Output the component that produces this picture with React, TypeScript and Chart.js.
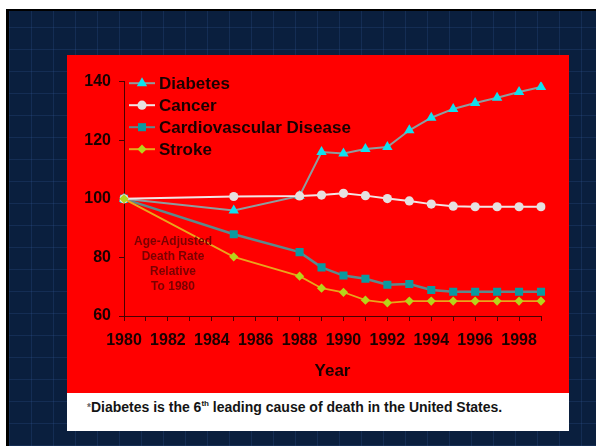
import React, { useEffect, useRef } from 'react';
import { Chart, registerables } from 'chart.js';

Chart.register(...registerables);

const years = ['1980','1981','1982','1983','1984','1985','1986','1987','1988','1989','1990','1991','1992','1993','1994','1995','1996','1997','1998','1999'];
const seriesNames = ['Diabetes', 'Cancer', 'Cardiovascular Disease', 'Stroke'];
const diabetes = [100, null, null, null, null, 96, null, null, 101, 116, 115.5, 117, 117.7, 123.4, 127.7, 130.7, 132.7, 134.5, 136.5, 138.2];
const cancer = [100, null, null, null, null, 100.8, null, null, 101, 101.3, 101.9, 101.1, 100.1, 99.3, 98.2, 97.5, 97.3, 97.3, 97.3, 97.3];
const cardiovascular = [100, null, null, null, null, 87.9, null, null, 81.8, 76.6, 73.8, 72.7, 70.7, 70.9, 68.9, 68.3, 68.3, 68.3, 68.3, 68.3];
const stroke = [100, null, null, null, null, 80.2, null, null, 73.6, 69.5, 68.1, 65.4, 64.5, 65.1, 65.1, 65.1, 65.1, 65.1, 65.1, 65.1];
const yMin = 60;
const yMax = 140;
const yStep = 20;
const noteLines = ['Age-Adjusted', 'Death Rate', 'Relative', 'To 1980'];
const xTitle = 'Year';

const AXIS = '#4a0000';
const TEXT = '#1a0000';

function drawMarker(ctx: CanvasRenderingContext2D, style: string, x: number, y: number, r: number, fill: string) {
  ctx.save();
  ctx.fillStyle = fill;
  ctx.beginPath();
  if (style === 'triangle') {
    ctx.moveTo(x, y - r);
    ctx.lineTo(x + r * 0.866, y + r * 0.5);
    ctx.lineTo(x - r * 0.866, y + r * 0.5);
    ctx.closePath();
  } else if (style === 'circle') {
    ctx.arc(x, y, r, 0, Math.PI * 2);
  } else if (style === 'rect') {
    const s = r * Math.SQRT1_2;
    ctx.rect(x - s, y - s, 2 * s, 2 * s);
  } else {
    ctx.moveTo(x, y - r);
    ctx.lineTo(x + r, y);
    ctx.lineTo(x, y + r);
    ctx.lineTo(x - r, y);
    ctx.closePath();
  }
  ctx.fill();
  ctx.restore();
}

export default function App() {
  const ref = useRef<HTMLCanvasElement>(null);

  useEffect(() => {
    const canvas = ref.current;
    if (!canvas) return;

    const overlayPlugin = {
      id: 'inlineLegendAndNote',
      afterDatasetsDraw(chart: any) {
        const ctx: CanvasRenderingContext2D = chart.ctx;
        const area = chart.chartArea;
        ctx.save();
        chart.data.datasets.forEach((ds: any, i: number) => {
          const y = area.top + 1.5 + i * 22;
          ctx.strokeStyle = ds.borderColor;
          ctx.lineWidth = 2;
          ctx.beginPath();
          ctx.moveTo(area.left + 5, y);
          ctx.lineTo(area.left + 31, y);
          ctx.stroke();
          drawMarker(ctx, ds.pointStyle, area.left + 18, y, ds.pointRadius, ds.pointBackgroundColor);
          ctx.fillStyle = TEXT;
          ctx.font = 'bold 17px "Liberation Sans", Arial, sans-serif';
          ctx.textAlign = 'left';
          ctx.textBaseline = 'middle';
          ctx.fillText(ds.label, area.left + 35, y + 1);
        });
        ctx.fillStyle = '#7a0000';
        ctx.font = 'bold 12px "Liberation Sans", Arial, sans-serif';
        ctx.textAlign = 'center';
        ctx.textBaseline = 'middle';
        noteLines.forEach((t, i) => {
          ctx.fillText(t, area.left + 49, area.top + 159.5 + i * 15.2);
        });
        ctx.restore();
      },
    };

    const chart = new Chart(canvas, {
      type: 'line',
      data: {
        labels: years,
        datasets: [
          {
            label: seriesNames[0],
            data: diabetes,
            borderColor: '#8e9c9e',
            borderWidth: 2,
            pointStyle: 'triangle',
            pointRadius: 6,
            pointBackgroundColor: '#10e0ee',
            pointBorderColor: '#10e0ee',
            pointBorderWidth: 0,
            spanGaps: true,
            order: 2,
          },
          {
            label: seriesNames[1],
            data: cancer,
            borderColor: '#f2e6e6',
            borderWidth: 2,
            pointStyle: 'circle',
            pointRadius: 4.6,
            pointBackgroundColor: '#e6e0e0',
            pointBorderColor: '#e6e0e0',
            pointBorderWidth: 0,
            spanGaps: true,
            order: 1,
          },
          {
            label: seriesNames[2],
            data: cardiovascular,
            borderColor: '#5c8a8c',
            borderWidth: 2.5,
            pointStyle: 'rect',
            pointRadius: 5.7,
            pointBackgroundColor: '#0a9aa0',
            pointBorderColor: '#0a9aa0',
            pointBorderWidth: 0,
            spanGaps: true,
            order: 3,
          },
          {
            label: seriesNames[3],
            data: stroke,
            borderColor: '#eaa41c',
            borderWidth: 1.8,
            pointStyle: 'rectRot',
            pointRadius: 4.6,
            pointBackgroundColor: '#b6d41a',
            pointBorderColor: '#b6d41a',
            pointBorderWidth: 0,
            spanGaps: true,
            order: 0,
          },
        ],
      },
      options: {
        responsive: false,
        animation: false,
        layout: { padding: { top: 26.7, right: 28, left: 0, bottom: 0 } },
        plugins: {
          legend: { display: false },
          tooltip: { enabled: false },
        },
        elements: { line: { tension: 0 } },
        scales: {
          x: {
            type: 'category',
            offset: false,
            afterFit: (scale: any) => { scale.height = 77; },
            grid: { display: true, drawOnChartArea: false, drawTicks: true, tickLength: 5, color: AXIS },
            border: { display: true, color: AXIS, width: 1 },
            ticks: {
              autoSkip: false,
              maxRotation: 0,
              padding: 10,
              color: TEXT,
              font: { family: '"Liberation Sans", Arial, sans-serif', size: 16, weight: 'bold' },
              callback: (_v: any, idx: number) => (Number(years[idx]) % 2 === 0 ? years[idx] : ''),
            },
            title: {
              display: true,
              text: xTitle,
              color: TEXT,
              padding: { top: 4, bottom: 11 },
              font: { family: '"Liberation Sans", Arial, sans-serif', size: 17, weight: 'bold' },
            },
          },
          y: {
            min: yMin,
            max: yMax,
            afterFit: (scale: any) => { scale.width = 57; },
            grid: { display: true, drawOnChartArea: false, drawTicks: true, tickLength: 5, color: AXIS },
            border: { display: true, color: AXIS, width: 1 },
            ticks: {
              stepSize: yStep,
              padding: 8,
              color: TEXT,
              font: { family: '"Liberation Sans", Arial, sans-serif', size: 16, weight: 'bold' },
            },
          },
        },
      },
      plugins: [overlayPlugin],
    } as any);

    return () => chart.destroy();
  }, []);

  const navyBg =
    'repeating-linear-gradient(90deg, rgba(60,100,170,0.2) 0px, rgba(60,100,170,0.2) 1px, transparent 1px, transparent 22px),' +
    'repeating-linear-gradient(0deg, rgba(60,100,170,0.2) 0px, rgba(60,100,170,0.2) 1px, transparent 1px, transparent 22px),' +
    '#0a1f3e';

  return (
    <div style={{ position: 'absolute', left: 0, top: 0, width: 596, height: 446, background: '#ffffff', overflow: 'hidden' }}>
      <div style={{ position: 'absolute', left: 6, top: 9, width: 590, height: 437, background: '#000000' }} />
      <div style={{ position: 'absolute', left: 9, top: 11, width: 587, height: 435, background: navyBg }} />
      <div style={{ position: 'absolute', left: 67, top: 55, width: 502, height: 338, background: '#ff0000' }}>
        <canvas ref={ref} width={502} height={338} style={{ display: 'block', width: 502, height: 338 }} />
      </div>
      <div
        style={{
          position: 'absolute',
          left: 67,
          top: 393,
          width: 502,
          height: 38,
          background: '#ffffff',
          fontFamily: '"Liberation Sans", Arial, sans-serif',
          fontWeight: 'bold',
          fontSize: 14,
          color: '#141414',
          lineHeight: '28px',
          paddingLeft: 20,
          boxSizing: 'border-box',
          whiteSpace: 'nowrap',
        }}
      >
        <span style={{ color: '#666', fontSize: 10, verticalAlign: 1 }}>*</span>Diabetes is the 6
        <sup style={{ fontSize: 8, lineHeight: 0 }}>th</sup> leading cause of death in the United States.
      </div>
    </div>
  );
}
